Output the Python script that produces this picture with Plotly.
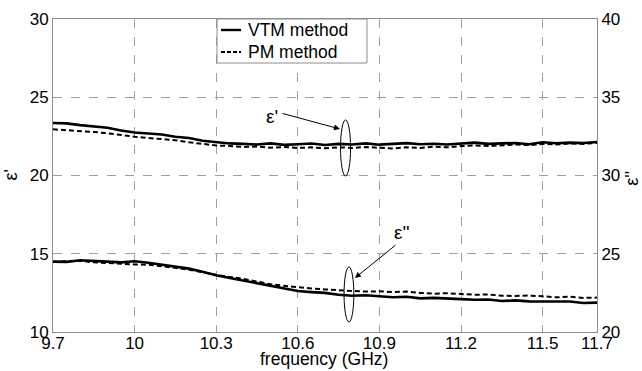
import plotly.graph_objects as go

freq = [9.70, 9.75, 9.80, 9.85, 9.90, 9.95, 10.00, 10.05, 10.10, 10.15, 10.20, 10.25, 10.30,
        10.35, 10.40, 10.45, 10.50, 10.55, 10.60, 10.65, 10.70, 10.75, 10.80, 10.85, 10.90,
        10.95, 11.00, 11.05, 11.10, 11.15, 11.20, 11.25, 11.30, 11.35, 11.40, 11.45, 11.50,
        11.55, 11.60, 11.65, 11.70]

eps1_vtm = [23.35, 23.33, 23.22, 23.12, 23.05, 22.88, 22.75, 22.68, 22.62, 22.48, 22.40, 22.22,
            22.12, 22.05, 22.02, 21.98, 22.05, 21.96, 22.00, 22.04, 21.95, 22.02, 21.98, 22.05,
            21.97, 22.02, 22.07, 22.00, 22.03, 21.98, 22.06, 22.10, 22.02, 22.05, 22.08, 22.00,
            22.12, 22.06, 22.10, 22.08, 22.14]
eps1_pm = [22.95, 22.90, 22.82, 22.78, 22.70, 22.58, 22.48, 22.40, 22.32, 22.25, 22.12, 22.02,
           21.92, 21.88, 21.82, 21.85, 21.78, 21.82, 21.76, 21.80, 21.74, 21.80, 21.76, 21.82,
           21.75, 21.72, 21.80, 21.76, 21.84, 21.80, 21.88, 21.92, 21.88, 21.95, 21.98, 21.94,
           22.02, 21.98, 22.05, 22.02, 22.08]
eps2_vtm = [24.50, 24.48, 24.58, 24.52, 24.50, 24.45, 24.52, 24.42, 24.30, 24.18, 24.05, 23.85,
            23.62, 23.45, 23.28, 23.10, 22.92, 22.75, 22.62, 22.55, 22.50, 22.38, 22.32, 22.35,
            22.28, 22.22, 22.25, 22.15, 22.18, 22.12, 22.10, 22.06, 22.08, 21.98, 22.02, 21.96,
            21.95, 21.92, 21.95, 21.85, 21.88]
eps2_pm = [24.48, 24.50, 24.55, 24.45, 24.40, 24.38, 24.32, 24.30, 24.22, 24.10, 23.98, 23.80,
           23.65, 23.52, 23.40, 23.22, 23.05, 22.95, 22.85, 22.78, 22.72, 22.65, 22.62, 22.58,
           22.60, 22.55, 22.58, 22.50, 22.45, 22.48, 22.42, 22.38, 22.40, 22.32, 22.30, 22.33,
           22.28, 22.22, 22.25, 22.18, 22.20]

x_ticks = [9.7, 10, 10.3, 10.6, 10.9, 11.2, 11.5, 11.7]
x_ticktext = ["9.7", "10", "10.3", "10.6", "10.9", "11.2", "11.5", "11.7"]
legend_names = ["VTM method", "PM method"]
x_title = "frequency (GHz)"
y1_title = "ε'"
y2_title = "ε''"

FONT = "Liberation Sans, Arial, sans-serif"
GRID = "#a0a0a0"
FRAME = "#8c8c8c"
SOLID = dict(color="black", width=2.6)
DASHED = dict(color="black", width=2, dash="5px,3px")

fig = go.Figure()
fig.add_trace(go.Scatter(x=freq, y=eps1_vtm, mode="lines", name=legend_names[0], line=SOLID))
fig.add_trace(go.Scatter(x=freq, y=eps1_pm, mode="lines", name=legend_names[1], line=DASHED))
fig.add_trace(go.Scatter(x=freq, y=eps2_vtm, mode="lines", name=legend_names[0], yaxis="y2",
                         line=SOLID))
fig.add_trace(go.Scatter(x=freq, y=eps2_pm, mode="lines", name=legend_names[1], yaxis="y2",
                         line=DASHED))

fig.update_layout(
    width=642, height=371,
    margin=dict(l=53, r=45, t=19, b=39),
    paper_bgcolor="white", plot_bgcolor="white",
    font=dict(family=FONT, size=17, color="black"),
    showlegend=False,
    xaxis=dict(range=[9.7, 11.7], tickvals=x_ticks, ticktext=x_ticktext, automargin=False,
               showgrid=True, gridcolor=GRID, griddash="dash", gridwidth=1,
               showline=True, linecolor=FRAME, linewidth=1, mirror=True,
               zeroline=False, ticks="", ticklen=0, ticklabelstandoff=-4),
    yaxis=dict(range=[10, 30], dtick=5, tick0=10, automargin=False,
               showgrid=True, gridcolor=GRID, griddash="dash", gridwidth=1,
               showline=True, linecolor=FRAME, linewidth=1, mirror=True,
               zeroline=False, ticks=""),
    yaxis2=dict(range=[20, 40], dtick=5, tick0=20, overlaying="y", side="right",
                automargin=False,
                showgrid=False, showline=True, linecolor=FRAME, linewidth=1,
                zeroline=False, ticks=""),
)

# axis titles
fig.add_annotation(x=0.498, y=-0.0853, xref="paper", yref="paper", text=x_title, showarrow=False,
                   xanchor="center", yanchor="middle", font=dict(size=17.5))
fig.add_annotation(x=-0.079, y=0.50, xref="paper", yref="paper", text=y1_title, showarrow=False,
                   textangle=-90, xanchor="center", yanchor="middle", font=dict(size=18))
fig.add_annotation(x=1.064, y=0.492, xref="paper", yref="paper", text=y2_title, showarrow=False,
                   textangle=-90, xanchor="center", yanchor="middle", font=dict(size=18))

# legend box (drawn manually to match compact legend)
fig.add_shape(type="rect", xref="paper", yref="paper", x0=0.3015, x1=0.5772, y0=0.8594, y1=1.0,
              line=dict(color=FRAME, width=1), fillcolor="white", layer="above")
for row_y, name, style in [(0.9649, legend_names[0], SOLID), (0.8946, legend_names[1], DASHED)]:
    fig.add_shape(type="line", xref="paper", yref="paper", x0=0.3088, x1=0.3456, y0=row_y, y1=row_y,
                  line=dict(color="black", width=2 if style is DASHED else 2.4,
                            dash="4px,2px" if style is DASHED else "solid"), layer="above")
    fig.add_annotation(x=0.3548, y=row_y, xref="paper", yref="paper", text=name, showarrow=False,
                       xanchor="left", yanchor="middle", font=dict(size=17.5))

# ellipses marking the curve groups
fig.add_shape(type="circle", xref="x", yref="y", x0=10.757, x1=10.794, y0=19.97, y1=23.55,
              line=dict(color="black", width=1))
fig.add_shape(type="circle", xref="x", yref="y2", x0=10.770, x1=10.806, y0=20.64, y1=24.16,
              line=dict(color="black", width=1))

# arrows
fig.add_annotation(x=10.755, y=22.97, xref="x", yref="y", ax=-59, ay=-16, text="",
                   showarrow=True, arrowhead=2, arrowsize=1.2, arrowwidth=1, arrowcolor="black")
fig.add_annotation(x=10.81, y=23.45, xref="x", yref="y2", ax=42, ay=-34, text="",
                   showarrow=True, arrowhead=2, arrowsize=1.2, arrowwidth=1, arrowcolor="black")
fig.add_annotation(x=10.505, y=23.8, xref="x", yref="y", text="ε'", showarrow=False,
                   font=dict(size=19))
fig.add_annotation(x=10.983, y=26.39, xref="x", yref="y2", text="ε''", showarrow=False,
                   font=dict(size=19))

fig.write_html("out.html")
